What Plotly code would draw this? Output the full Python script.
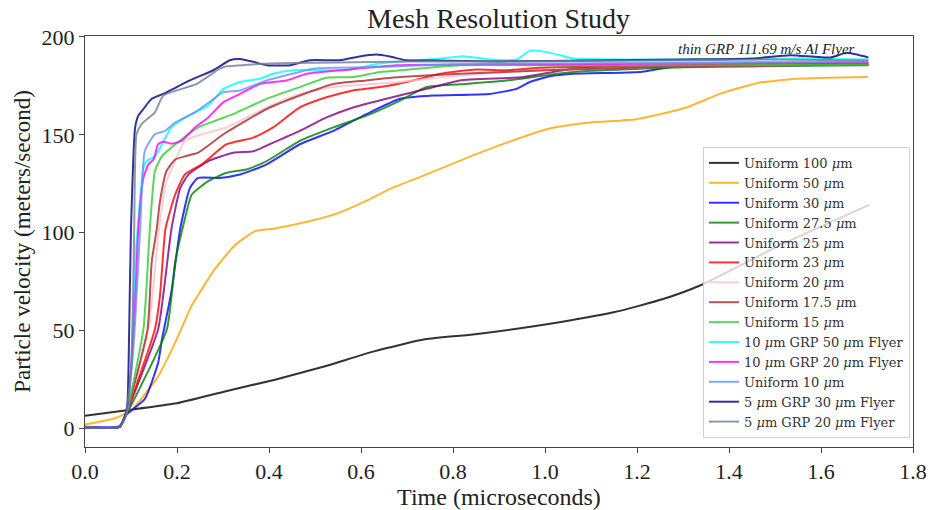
import plotly.graph_objects as go

# ---- series data: time (microseconds) and particle velocity (m/s) ----
names = [
    "Uniform 100 <i>μ</i>m", "Uniform 50 <i>μ</i>m", "Uniform 30 <i>μ</i>m",
    "Uniform 27.5 <i>μ</i>m", "Uniform 25 <i>μ</i>m", "Uniform 23 <i>μ</i>m",
    "Uniform 20 <i>μ</i>m", "Uniform 17.5 <i>μ</i>m", "Uniform 15 <i>μ</i>m",
    "10 <i>μ</i>m GRP 50 <i>μ</i>m Flyer", "10 <i>μ</i>m GRP 20 <i>μ</i>m Flyer",
    "Uniform 10 <i>μ</i>m", "5 <i>μ</i>m GRP 30 <i>μ</i>m Flyer",
    "5 <i>μ</i>m GRP 20 <i>μ</i>m Flyer",
]
colors = [
    "#000000", "#FFA500", "#0000FF", "#008000", "#800080", "#FF0000",
    "#FFC0CB", "#A52A2A", "#32CD32", "#00FFFF", "#FF00FF", "#6495ED",
    "#000080", "#708090",
]

t_u100 = [0, 0.087, 0.196, 0.304, 0.413, 0.522, 0.63, 0.739, 0.848, 1.004,
          1.149, 1.257, 1.337, 1.511, 1.705]
v_u100 = [6.5, 9.2, 12.7, 18.9, 24.9, 31.8, 39.5, 45.5, 48.1, 53.2,
          59.3, 66.1, 73.0, 93.6, 114.2]

t_u50 = [0, 0.065, 0.101, 0.159, 0.196, 0.232, 0.283, 0.326, 0.37, 0.413,
         0.485, 0.55, 0.609, 0.667, 0.724, 0.859, 1.004, 1.098, 1.199, 1.308,
         1.38, 1.46, 1.547, 1.703]
v_u50 = [2.0, 5.2, 9.4, 26.6, 43.8, 62.7, 81.6, 93.6, 100.8, 102.2,
         105.7, 110.0, 116.0, 122.8, 128.0, 140.9, 152.9, 156.3, 158.0, 164.0,
         170.9, 176.4, 178.6, 179.5]

t_u30 = [0, 0.075, 0.09, 0.13, 0.159, 0.167, 0.188, 0.207, 0.228, 0.246,
         0.293, 0.337, 0.395, 0.467, 0.54, 0.612, 0.685, 0.757, 0.88, 0.938,
         0.967, 1.011, 1.062, 1.207, 1.279, 1.5, 1.703]
v_u30 = [0.8, 1.2, 7.0, 15.0, 33.5, 45.0, 70.0, 102.0, 122.8, 128.0,
         128.0, 129.7, 134.9, 145.2, 152.0, 160.6, 168.4, 170.1, 170.9, 173.5,
         177.0, 179.9, 181.2, 182.1, 184.7, 185.5, 186.0]

t_u275 = [0, 0.075, 0.09, 0.178, 0.196, 0.214, 0.232, 0.268, 0.308, 0.351,
          0.395, 0.467, 0.54, 0.612, 0.685, 0.743, 0.815, 0.917, 1.062, 1.3,
          1.703]
v_u275 = [0.5, 0.8, 7.0, 50.7, 85.0, 104.0, 119.4, 126.3, 130.6, 132.3,
          136.6, 146.9, 153.8, 159.8, 167.5, 174.4, 175.8, 177.8, 182.1, 184.5,
          185.5]

t_u25 = [0, 0.075, 0.09, 0.159, 0.17, 0.188, 0.207, 0.225, 0.268, 0.322,
         0.366, 0.409, 0.467, 0.525, 0.583, 0.655, 0.743, 0.815, 0.953, 1.061,
         1.3, 1.703]
v_u25 = [0.5, 0.8, 8.0, 50.7, 67.8, 102.0, 122.8, 129.7, 136.6, 140.9,
         141.6, 146.0, 152.0, 158.9, 164.0, 168.4, 173.5, 177.8, 179.5, 183.8,
         185.0, 186.0]

t_u23 = [0, 0.075, 0.09, 0.152, 0.163, 0.175, 0.196, 0.217, 0.254, 0.308,
         0.366, 0.409, 0.467, 0.525, 0.583, 0.641, 0.714, 0.772, 0.844, 0.917,
         0.989, 1.3, 1.703]
v_u23 = [0.5, 0.8, 8.0, 50.7, 67.8, 102.0, 119.4, 129.7, 134.9, 145.2,
         148.6, 153.8, 164.0, 169.2, 172.7, 174.4, 177.8, 181.2, 183.3, 183.0,
         184.3, 185.5, 186.5]

t_u20 = [0, 0.075, 0.09, 0.138, 0.161, 0.177, 0.196, 0.217, 0.254, 0.308,
         0.395, 0.467, 0.54, 0.685, 0.8, 1.0, 1.3, 1.703]
v_u20 = [0.5, 0.8, 8.0, 50.7, 102.0, 126.3, 136.6, 146.9, 150.3, 153.8,
         164.0, 170.9, 174.4, 177.0, 180.0, 183.0, 185.0, 186.0]

t_u175 = [0, 0.075, 0.09, 0.136, 0.145, 0.156, 0.163, 0.177, 0.196, 0.217,
          0.246, 0.301, 0.395, 0.467, 0.54, 0.612, 0.685, 0.815, 1.0, 1.3,
          1.703]
v_u175 = [0.5, 0.8, 8.0, 50.7, 85.0, 102.0, 116.0, 131.4, 137.4, 139.0,
          140.9, 150.3, 163.2, 170.1, 176.0, 177.8, 179.5, 181.2, 183.0, 185.0,
          186.0]

t_u15 = [0, 0.075, 0.09, 0.127, 0.141, 0.152, 0.167, 0.188, 0.21, 0.246,
         0.283, 0.322, 0.395, 0.467, 0.525, 0.583, 0.641, 0.699, 0.815, 1.0,
         1.3, 1.703]
v_u15 = [0.5, 0.8, 8.0, 50.7, 102.0, 131.4, 139.0, 143.5, 147.7, 153.8,
         157.2, 160.6, 168.4, 174.4, 179.2, 179.5, 182.1, 183.3, 185.6, 185.5,
         185.5, 186.0]

t_g10f50 = [0, 0.075, 0.09, 0.1, 0.109, 0.127, 0.134, 0.152, 0.167, 0.188,
            0.225, 0.268, 0.301, 0.337, 0.38, 0.409, 0.453, 0.569, 0.641,
            0.772, 0.822, 0.88, 0.938, 0.967, 0.989, 1.033, 1.062, 1.2, 1.4,
            1.55, 1.703]
v_g10f50 = [0.5, 0.8, 8.0, 30.0, 85.0, 133.0, 136.6, 139.0, 145.0, 153.8,
            159.8, 165.0, 173.5, 177.0, 178.7, 181.2, 183.0, 183.0, 186.4,
            189.0, 190.2, 188.5, 188.5, 192.9, 192.9, 190.7, 189.0, 188.5,
            188.5, 189.0, 188.5]

t_g10f20 = [0, 0.075, 0.09, 0.106, 0.116, 0.127, 0.138, 0.149, 0.159, 0.17,
            0.188, 0.21, 0.239, 0.268, 0.301, 0.337, 0.38, 0.438, 0.482,
            0.569, 0.678, 0.8, 1.0, 1.3, 1.703]
v_g10f20 = [0.5, 0.8, 8.0, 50.0, 102.0, 128.0, 134.9, 137.4, 145.2, 146.5,
            145.5, 146.9, 153.8, 158.9, 166.7, 170.9, 176.0, 177.8, 181.2,
            183.3, 185.6, 186.0, 186.0, 186.5, 187.0]

t_u10 = [0, 0.075, 0.09, 0.105, 0.12, 0.13, 0.152, 0.174, 0.196, 0.239,
         0.275, 0.301, 0.337, 0.395, 0.438, 0.496, 0.641, 0.8, 1.0, 1.3,
         1.703]
v_u10 = [0.5, 0.8, 8.0, 40.0, 102.0, 141.7, 150.3, 152.0, 156.3, 161.5,
         167.5, 171.8, 172.7, 177.8, 180.4, 183.8, 184.7, 186.0, 186.5, 187.0,
         187.5]

t_g5f30 = [0, 0.075, 0.085, 0.092, 0.096, 0.1, 0.109, 0.116, 0.127, 0.145,
           0.17, 0.228, 0.279, 0.315, 0.337, 0.366, 0.395, 0.446, 0.489,
           0.554, 0.591, 0.634, 0.663, 0.699, 0.757, 0.9, 1.1, 1.3, 1.45,
           1.533, 1.62, 1.656, 1.703]
v_g5f30 = [0.5, 0.8, 5.0, 12.0, 50.0, 102.0, 153.8, 159.8, 163.2, 168.4,
           170.9, 177.8, 183.0, 188.1, 188.7, 187.3, 185.6, 185.6, 188.1,
           188.1, 189.8, 191.0, 190.0, 188.1, 188.0, 187.5, 188.0, 188.5,
           189.0, 190.7, 189.5, 191.9, 189.5]

t_g5f20 = [0, 0.075, 0.088, 0.1, 0.104, 0.107, 0.112, 0.123, 0.152, 0.17,
           0.243, 0.293, 0.308, 0.366, 0.438, 0.55, 0.7, 0.9, 1.2, 1.5, 1.703]
v_g5f20 = [0.5, 0.8, 6.0, 30.0, 60.0, 102.0, 150.3, 155.5, 161.5, 170.0,
           176.0, 183.8, 185.0, 186.0, 186.7, 187.0, 187.5, 187.5, 188.0,
           188.5, 188.0]

times = [t_u100, t_u50, t_u30, t_u275, t_u25, t_u23, t_u20, t_u175, t_u15,
         t_g10f50, t_g10f20, t_u10, t_g5f30, t_g5f20]
vels = [v_u100, v_u50, v_u30, v_u275, v_u25, v_u23, v_u20, v_u175, v_u15,
        v_g10f50, v_g10f20, v_u10, v_g5f30, v_g5f20]

x_ticks = [0.0, 0.2, 0.4, 0.6, 0.8, 1.0, 1.2, 1.4, 1.6, 1.8]
y_ticks = [0, 50, 100, 150, 200]

SERIF = "Liberation Serif, Times New Roman, serif"
LEGEND_SERIF = "DejaVu Serif, serif"

fig = go.Figure()
for name, color, t, v in zip(names, colors, times, vels):
    fig.add_trace(go.Scatter(
        x=t, y=v, mode="lines", name=name,
        line=dict(color=color, width=2, shape="spline", smoothing=0.5),
        opacity=0.8,
    ))

fig.add_annotation(
    x=1.678, y=194, xref="x", yref="y",
    text="<i>thin GRP 111.69 m/s Al Flyer</i>",
    showarrow=False, xanchor="right", yanchor="middle",
    font=dict(family=SERIF, size=15, color="#222"),
)

fig.update_layout(
    width=930, height=510,
    margin=dict(l=85, r=17, t=36, b=63),
    paper_bgcolor="white", plot_bgcolor="white",
    font=dict(family=SERIF, color="#222"),
    title=dict(text="Mesh Resolution Study", x=0.536, xanchor="center",
               y=1 - 18 / 510, yanchor="middle",
               font=dict(family=SERIF, size=28, color="#222")),
    legend=dict(
        x=0.9964, y=0.022, xanchor="right", yanchor="bottom",
        bgcolor="rgba(255,255,255,0.8)", bordercolor="#d0d0d0", borderwidth=1,
        font=dict(family=LEGEND_SERIF, size=13, color="#333"),
        itemwidth=30, tracegroupgap=0,
    ),
    showlegend=True,
)

fig.update_xaxes(
    range=[0, 1.8], tickvals=x_ticks, tickformat=".1f",
    showline=True, linecolor="#444", linewidth=1, mirror=True,
    ticks="outside", ticklen=5, tickcolor="#444",
    showgrid=False, zeroline=False, automargin=False,
    tickfont=dict(family=SERIF, size=22, color="#222"),
    title=dict(text="Time (microseconds)", standoff=0,
               font=dict(family=SERIF, size=24, color="#222")),
)
fig.update_yaxes(
    range=[-9.5, 200.5], tickvals=y_ticks,
    showline=True, linecolor="#444", linewidth=1, mirror=True,
    ticks="outside", ticklen=5, tickcolor="#444",
    showgrid=False, zeroline=False, automargin=False,
    tickfont=dict(family=SERIF, size=22, color="#222"),
    title=dict(text="Particle velocity (meters/second)", standoff=4,
               font=dict(family=SERIF, size=23, color="#222")),
)

fig.write_html("out.html")
